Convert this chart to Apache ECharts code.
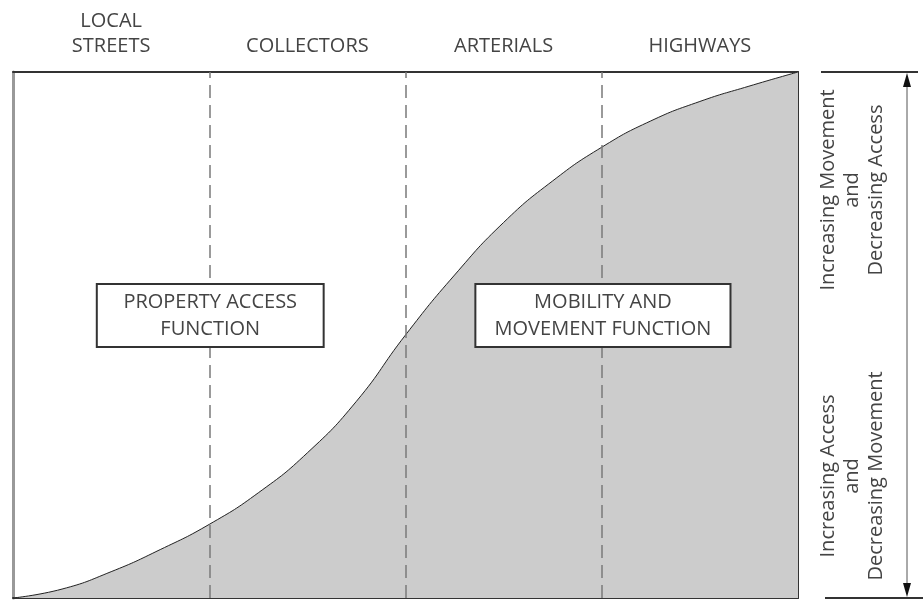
<!DOCTYPE html>
<html>
<head>
<meta charset="utf-8">
<script src="https://cdn.jsdelivr.net/npm/echarts@6/dist/echarts.min.js"></script>
<style>
  html, body { margin: 0; padding: 0; background: #fff; }
  #chart { width: 923px; height: 600px; }
</style>
</head>
<body>
<div id="chart"></div>
<script>
// road classes along the top
const classes = ['LOCAL\nSTREETS', 'COLLECTORS', 'ARTERIALS', 'HIGHWAYS'];

// the S-curve (x in class units, y in % of height)
const curveX = [0, 0.25, 0.5, 0.75, 1, 1.25, 1.5, 1.75, 2, 2.25, 2.5, 2.75, 3, 3.25, 3.5, 3.75, 4];
const curveY = [0, 1.7, 5.0, 9.2, 14.0, 20.0, 27.6, 37.4, 50.0, 61.4, 71.4, 79.3, 85.7, 90.7, 94.4, 97.3, 100];

// class boundaries (dashed)
const boundaries = [1, 2, 3];

// function boxes: [label, xFrom, xTo, yTop, yBottom]
const boxes = [
  ['PROPERTY ACCESS\nFUNCTION', 0.427, 1.583, 59.7, 47.7],
  ['MOBILITY AND\nMOVEMENT FUNCTION', 2.356, 3.656, 59.7, 47.7]
];

// side notes, upper then lower half
const sideNotes = [
  'Increasing Movement\nand\nDecreasing Access',
  'Increasing Access\nand\nDecreasing Movement'
];

const FONT = '"Open Sans", sans-serif';
const TEXT = '#444';

const chart = echarts.init(document.getElementById('chart'), null, { renderer: 'canvas' });

const option = {
  animation: false,
  grid: { left: 13, right: 125, top: 72, bottom: 2 },
  xAxis: [
    {
      type: 'value', min: 0, max: 4,
      axisLine: { show: true, onZero: false, lineStyle: { color: '#333', width: 2 } },
      axisTick: { show: false }, axisLabel: { show: false }, splitLine: { show: false }
    },
    {
      type: 'category', position: 'top', data: classes, boundaryGap: true,
      axisLine: { show: true, onZero: false, lineStyle: { color: '#333', width: 2 } },
      axisTick: { show: false },
      axisLabel: { margin: 13, fontFamily: FONT, fontSize: 20, color: TEXT, lineHeight: 25 },
      splitLine: { show: false }
    }
  ],
  yAxis: [
    {
      type: 'value', min: 0, max: 100,
      axisLine: { show: true, onZero: false, lineStyle: { color: '#999', width: 3 } },
      axisTick: { show: false }, axisLabel: { show: false }, splitLine: { show: false }
    },
    {
      type: 'value', min: 0, max: 100, position: 'right',
      axisLine: { show: true, onZero: false, lineStyle: { color: '#333', width: 2 } },
      axisTick: { show: false }, axisLabel: { show: false }, splitLine: { show: false }
    }
  ],
  series: [
    {
      type: 'line',
      z: 2,
      xAxisIndex: 0, yAxisIndex: 0,
      data: curveX.map((x, i) => [x, curveY[i]]),
      smooth: 0.5,
      showSymbol: false,
      lineStyle: { color: '#222', width: 1 },
      areaStyle: { color: '#cccccc', opacity: 1 }
    },
    {
      // dashed class boundaries, above the filled area
      type: 'line',
      z: 4,
      xAxisIndex: 0, yAxisIndex: 0,
      data: [],
      markLine: {
        z: 4,
        silent: true,
        symbol: 'none',
        label: { show: false },
        lineStyle: { color: '#7a7a7a', width: 1.5, type: [13, 7] },
        data: boundaries.map(b => ({ xAxis: b }))
      }
    },
    {
      // white function boxes on top of everything
      type: 'line',
      z: 6,
      xAxisIndex: 0, yAxisIndex: 0,
      data: [],
      markArea: {
        z: 6,
        silent: true,
        itemStyle: { color: '#fff', opacity: 1, borderColor: '#333', borderWidth: 2 },
        label: {
          show: true, position: 'inside',
          fontFamily: FONT, fontSize: 20, color: TEXT, lineHeight: 27
        },
        data: boxes.map(b => [
          { name: b[0], coord: [b[1], b[3]] },
          { coord: [b[2], b[4]] }
        ])
      }
    }
  ]
};

chart.setOption(option);

// bracket with arrows on the right, tied to the y scale
const yTop = chart.convertToPixel({ yAxisIndex: 0 }, 100);
const yBot = chart.convertToPixel({ yAxisIndex: 0 }, 0);
const arrowX = 907;

chart.setOption({
  graphic: [
    { type: 'line', shape: { x1: 821, y1: yTop, x2: 918, y2: yTop }, style: { stroke: '#333', lineWidth: 2 } },
    { type: 'line', shape: { x1: 825, y1: yBot, x2: 923, y2: yBot }, style: { stroke: '#333', lineWidth: 2 } },
    { type: 'line', shape: { x1: arrowX, y1: yTop + 12, x2: arrowX, y2: yBot - 12 }, style: { stroke: '#555', lineWidth: 1 } },
    { type: 'polygon', shape: { points: [[arrowX, yTop + 1], [arrowX - 4, yTop + 15], [arrowX + 4, yTop + 15]] }, style: { fill: '#111' } },
    { type: 'polygon', shape: { points: [[arrowX, yBot - 1], [arrowX - 4, yBot - 15], [arrowX + 4, yBot - 15]] }, style: { fill: '#111' } },
    {
      type: 'text', x: 852, y: 190, rotation: Math.PI / 2,
      style: { text: sideNotes[0], font: '20px ' + FONT, fill: TEXT, align: 'center', verticalAlign: 'middle', lineHeight: 24 }
    },
    {
      type: 'text', x: 852, y: 476, rotation: Math.PI / 2,
      style: { text: sideNotes[1], font: '20px ' + FONT, fill: TEXT, align: 'center', verticalAlign: 'middle', lineHeight: 24 }
    }
  ]
});
</script>
</body>
</html>
